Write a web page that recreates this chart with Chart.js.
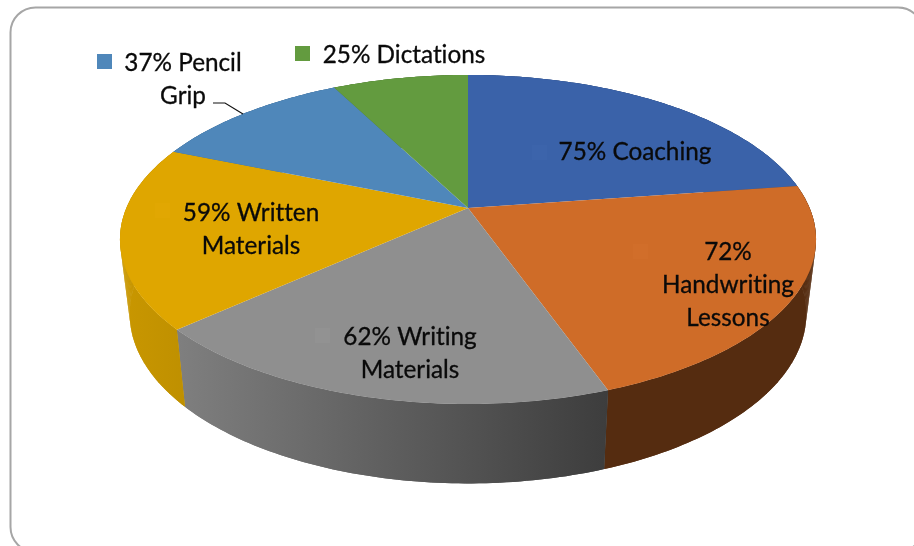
<!DOCTYPE html>
<html><head><meta charset="utf-8">
<style>html,body{margin:0;padding:0;background:#fff}canvas{display:block}</style>
<script src="https://cdn.jsdelivr.net/npm/chart.js@4"></script>
</head><body><canvas id="c" width="914" height="546"></canvas>
<script>
const categories = ["Coaching","Handwriting Lessons","Writing Materials","Written Materials","Pencil Grip","Dictations"];
const seriesValues = [75,72,62,59,37,25];
const topColors = ["#3a62a9","#cf6c28","#8f8f8f","#dfa600","#4f87ba","#639b3f"];
const wallColors = [["#2a4a80","#2a4a80"],["#552c10","#552c10"],["#7f7f7f","#3d3d3d"],["#c99700","#bf9000"],["#3b6a95","#3b6a95"],["#4a752f","#4a752f"]];
const keyColors = ["#3c64ab","#d16e2a","#929292","#e1a702","#4f87ba","#639b3f"];
const labelLines = [["75% Coaching"],["72%","Handwriting","Lessons"],["62% Writing","Materials"],["59% Written","Materials"],["37% Pencil","Grip"],["25% Dictations"]];
const labelCenters = [[635,152.5],[728,252.5],[410,337.5],[251,213.5],[183,63.5],[404,55.5]];
const keyBoxes = [[532,145],[633,244],[315,328],[155,203],[97,54],[295,46]];
const leader = [[213,103],[225,103],[243,114]];

const APEX = {x:468,y:208}, K=0.1915, A=341.6, B=158.5;
const LOW = {sx:0.972, sy:1.03, cy:281.5};
function proj(theta, lower){
  const u=Math.cos(theta), v=-Math.sin(theta), w=1+K*v;
  const X=A*u/w, Y=B*v/w;
  if(lower) return [APEX.x+LOW.sx*X, LOW.cy-LOW.sy*Y];
  return [APEX.x+X, APEX.y-Y];
}
const pie3d = {
  id:"pie3d",
  beforeDraw(chart){
    const c=chart.ctx;
    c.save();
    c.fillStyle="#fff";c.fillRect(0,0,914,546);
    c.beginPath();c.roundRect(10.5,7.5,912.5,544.5,25);
    c.strokeStyle="#a6a6a6";c.lineWidth=2;c.stroke();
    c.restore();
  },
  beforeDatasetsDraw(chart){
    const c=chart.ctx, arcs=chart.getDatasetMeta(0).data;
    c.save();
    arcs.forEach((a,i)=>{
      const n=Math.max(8,Math.ceil((a.endAngle-a.startAngle)*60));
      const top=[],low=[];
      for(let j=0;j<=n;j++){const t=a.startAngle+(a.endAngle-a.startAngle)*j/n;top.push(proj(t,false));low.push(proj(t,true));}
      const xs=top.map(p=>p[0]).concat(low.map(p=>p[0]));
      const g=c.createLinearGradient(Math.min(...xs),0,Math.max(...xs),0);
      g.addColorStop(0,wallColors[i][0]);g.addColorStop(1,wallColors[i][1]);
      c.fillStyle=g;
      for(let j=0;j<n;j++){
        c.beginPath();
        c.moveTo(top[j][0],top[j][1]);c.lineTo(top[j+1][0],top[j+1][1]);
        c.lineTo(low[j+1][0],low[j+1][1]);c.lineTo(low[j][0],low[j][1]);
        c.closePath();c.fill();
      }
      // solid band over the quads hides their antialiased seams
      c.beginPath();
      top.forEach((p,j)=>j?c.lineTo(p[0],p[1]):c.moveTo(p[0],p[1]));
      for(let j=low.length-1;j>=0;j--)c.lineTo(low[j][0],low[j][1]);
      c.closePath();c.fill();
    });
    arcs.forEach((a,i)=>{
      const n=Math.max(8,Math.ceil((a.endAngle-a.startAngle)*60));
      c.beginPath();c.moveTo(APEX.x,APEX.y);
      for(let j=0;j<=n;j++){const p=proj(a.startAngle+(a.endAngle-a.startAngle)*j/n,false);c.lineTo(p[0],p[1]);}
      c.closePath();c.fillStyle=topColors[i];c.fill();
    });
    c.restore();
    return false;
  },
  afterDraw(chart){
    const c=chart.ctx;
    c.save();
    keyBoxes.forEach((b,i)=>{c.fillStyle=keyColors[i];c.fillRect(b[0],b[1],15,15);});
    c.strokeStyle="#111";c.lineWidth=1.2;c.beginPath();
    leader.forEach((p,j)=>j?c.lineTo(p[0],p[1]):c.moveTo(p[0],p[1]));c.stroke();
    c.fillStyle="#0a0a0a";c.strokeStyle="#0a0a0a";c.lineWidth=0.3;
    c.textRendering="optimizeSpeed";
    c.font='24.3px Lato, "Open Sans", sans-serif';c.textAlign="center";c.textBaseline="middle";
    labelLines.forEach((lines,i)=>{
      lines.forEach((t,j)=>{
        const step = lines.length===3 ? 33 : 32.5;
        const y=labelCenters[i][1]+j*step;
        c.fillText(t,labelCenters[i][0],y);
        c.strokeText(t,labelCenters[i][0],y);
      });
    });
    c.restore();
  }
};
new Chart(document.getElementById("c"),{
  type:"pie",
  data:{labels:categories,datasets:[{data:seriesValues,backgroundColor:topColors,borderWidth:0}]},
  options:{responsive:false,animation:false,plugins:{legend:{display:false},tooltip:{enabled:false}}},
  plugins:[pie3d]
});
</script></body></html>
